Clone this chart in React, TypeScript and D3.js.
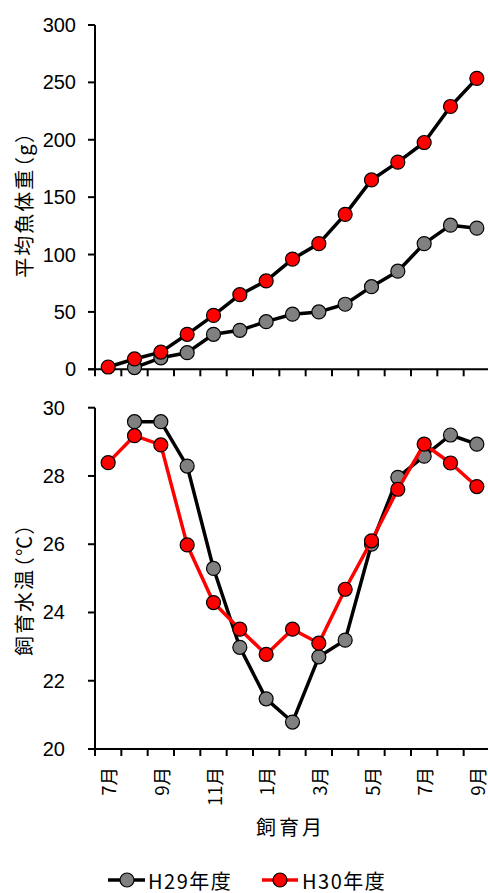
import React from "react";
import * as d3 from "d3";

const months = ["7月", "8月", "9月", "10月", "11月", "12月", "1月", "2月", "3月", "4月", "5月", "6月", "7月", "8月", "9月"];
const shownMonthIdx = [0, 2, 4, 6, 8, 10, 12, 14];

const weightH29: (number | null)[] = [null, 1.5, 10, 14.5, 30.5, 34, 41.5, 48, 50, 56.7, 72, 85.5, 109.5, 125.6, 123];
const weightH30: (number | null)[] = [2, 9, 15, 30.5, 47, 65, 77, 96, 109.5, 135, 165, 180.5, 197.6, 229, 253.5];
const tempH29: (number | null)[] = [null, 29.59, 29.59, 28.29, 25.29, 22.98, 21.47, 20.79, 22.7, 23.19, 26.0, 27.96, 28.58, 29.2, 28.93];
const tempH30: (number | null)[] = [28.39, 29.18, 28.91, 25.98, 24.29, 23.51, 22.77, 23.51, 23.1, 24.68, 26.1, 27.61, 28.93, 28.38, 27.69];

const weightTicks = [0, 50, 100, 150, 200, 250, 300];
const tempTicks = [20, 22, 24, 26, 28, 30];

const seriesNames = ["H29年度", "H30年度"];
const markerFill = ["#808080", "#ff0000"];

const JP = "'Noto Sans CJK JP', 'Noto Sans', sans-serif";
const NUM = "'Liberation Sans', Arial, sans-serif";

const W = 488;
const H = 893;
const X0 = 95;
const X1 = 490;

const xBand = d3.scaleBand<number>().domain(months.map((_, i) => i)).range([X0, X1]).paddingInner(0).paddingOuter(0);
const cx = (i: number) => (xBand(i) as number) + xBand.bandwidth() / 2;

const yW = d3.scaleLinear().domain([0, 300]).range([369.3, 25]);
const yT = d3.scaleLinear().domain([20, 30]).range([749, 407.7]);

function Panel({
  y,
  ticks,
  labelRight,
  series,
  lineColors,
  showXLabels,
  title,
  titleY,
}: {
  y: d3.ScaleLinear<number, number>;
  ticks: number[];
  labelRight: number;
  series: (number | null)[][];
  lineColors: string[];
  showXLabels: boolean;
  title: string;
  titleY: number;
}) {
  const [r0] = y.range();
  const top = y.range()[1];
  const line = d3
    .line<number | null>()
    .defined((d) => d !== null)
    .x((_, i) => cx(i))
    .y((d) => y(d as number));
  const bounds = d3.range(months.length + 1).map((i) => X0 + i * xBand.step());
  return (
    <g>
      <line x1={X0} x2={X0} y1={top} y2={r0} stroke="#000" strokeWidth={2} />
      {ticks.map((t) => (
        <g key={t}>
          <line x1={X0 - 7} x2={X0} y1={y(t)} y2={y(t)} stroke="#000" strokeWidth={2} />
          <text
            x={labelRight}
            y={y(t)}
            textAnchor="end"
            dominantBaseline="central"
            fontFamily={NUM}
            fontSize={20}
            fill="#000"
          >
            {t}
          </text>
        </g>
      ))}
      <line x1={X0 - 7} x2={X1} y1={r0} y2={r0} stroke="#000" strokeWidth={2} />
      {bounds.map((b, i) => (
        <line key={i} x1={b} x2={b} y1={r0} y2={r0 + 7} stroke="#000" strokeWidth={2} />
      ))}
      {showXLabels &&
        shownMonthIdx.map((i) => (
          <text
            key={i}
            transform={`translate(${cx(i)},${r0 + 18}) rotate(-90)`}
            textAnchor="end"
            dominantBaseline="central"
            fontFamily={JP}
            fontSize={18.5}
            fill="#000"
          >
            {months[i]}
          </text>
        ))}
      <text
        transform={`translate(23,${titleY}) rotate(-90)`}
        textAnchor="middle"
        dominantBaseline="central"
        fontFamily={JP}
        fontSize={20}
        letterSpacing={2}
        style={{ fontFeatureSettings: '"palt"' }}
        fill="#000"
      >
        {title}
      </text>
      {series.map((s, si) => (
        <g key={si}>
          <path d={line(s) || ""} fill="none" stroke={lineColors[si]} strokeWidth={3.5} strokeLinejoin="round" />
          {s.map((v, i) =>
            v === null ? null : (
              <circle key={i} cx={cx(i)} cy={y(v)} r={7} fill={markerFill[si]} stroke="#000" strokeWidth={1.2} />
            )
          )}
        </g>
      ))}
    </g>
  );
}

export default function App() {
  const legend = [
    { lx1: 108, lx2: 145, mx: 127, tx: 148, color: "#000" },
    { lx1: 262, lx2: 298, mx: 280, tx: 302, color: "#ff0000" },
  ];
  const ly = 880;
  return (
    <svg
      width={W}
      height={H}
      viewBox={`0 0 ${W} ${H}`}
      style={{ position: "absolute", left: 0, top: 0, background: "#fff" }}
    >
      <rect x={0} y={0} width={W} height={H} fill="#fff" />
      <Panel
        y={yW}
        ticks={weightTicks}
        labelRight={76}
        series={[weightH29, weightH30]}
        lineColors={["#000", "#000"]}
        showXLabels={false}
        title="平均魚体重（g）"
        titleY={204}
      />
      <Panel
        y={yT}
        ticks={tempTicks}
        labelRight={65}
        series={[tempH29, tempH30]}
        lineColors={["#000", "#ff0000"]}
        showXLabels={true}
        title="飼育水温（℃）"
        titleY={589}
      />
      <text x={(X0 + X1) / 2 - 2} y={826} textAnchor="middle" dominantBaseline="central" fontFamily={JP} fontSize={20} letterSpacing={3} fill="#000">
        飼育月
      </text>
      {legend.map((l, i) => (
        <g key={i}>
          <line x1={l.lx1} x2={l.lx2} y1={ly} y2={ly} stroke={l.color} strokeWidth={3.5} />
          <circle cx={l.mx} cy={ly} r={7} fill={markerFill[i]} stroke="#000" strokeWidth={1.2} />
          <text x={l.tx} y={ly} dominantBaseline="central" fontFamily={JP} fontSize={20} letterSpacing={1.5} fill="#000">
            {seriesNames[i]}
          </text>
        </g>
      ))}
    </svg>
  );
}
